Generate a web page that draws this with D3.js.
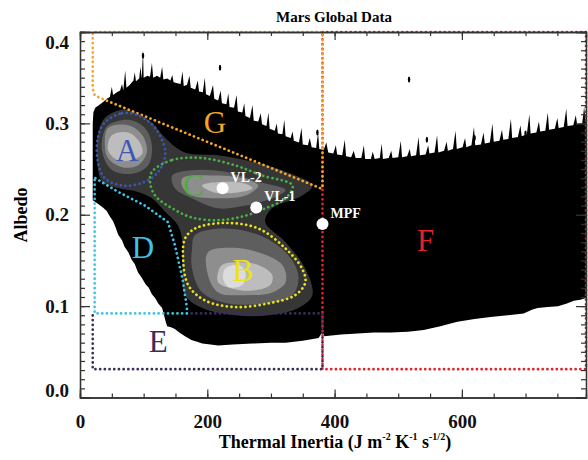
<!DOCTYPE html>
<html><head><meta charset="utf-8">
<script src="https://cdn.jsdelivr.net/npm/d3@7"></script>
<style>
body{margin:0;background:#fff;}
text{font-family:"Liberation Serif","Times New Roman",serif;}
</style></head>
<body><svg id="c" width="588" height="460"></svg>
<script>
// ---------- data ----------
const xMajorTicks = [0, 200, 400, 600];
const yMajorTicks = [0, 0.1, 0.2, 0.3, 0.4];
const xMinorTicks = d3.range(0, 800, 50);
const yMinorTicks = d3.range(0, 0.401, 0.01);

// upper envelope of the data cloud [thermal inertia, albedo]
const envelopeUpper = [[20,0.300],[21,0.312],[24,0.317],[30,0.320],[36,0.323],[42,0.327],[47,0.329],[50,0.340],[52,0.331],[58,0.334],[63,0.336],[66,0.343],[68,0.336],[71,0.358],[73,0.339],[78,0.342],[84,0.347],[86,0.356],[88,0.346],[93,0.349],[95,0.362],[97,0.349],[99,0.381],[100,0.350],[106,0.352],[110,0.351],[113,0.366],[115,0.350],[121,0.352],[126,0.350],[129,0.362],[131,0.348],[137,0.349],[142,0.347],[145,0.353],[147,0.345],[153,0.344],[158,0.343],[161,0.357],[163,0.341],[168,0.342],[172,0.352],[174,0.339],[181,0.337],[185,0.347],[187,0.335],[193,0.334],[196,0.350],[198,0.332],[204,0.330],[209,0.342],[211,0.327],[217,0.325],[221,0.336],[223,0.322],[230,0.321],[233,0.333],[235,0.318],[242,0.317],[246,0.331],[248,0.313],[255,0.312],[258,0.322],[260,0.308],[267,0.306],[271,0.320],[273,0.303],[280,0.302],[284,0.311],[286,0.299],[293,0.297],[296,0.312],[298,0.294],[306,0.292],[309,0.300],[311,0.289],[318,0.288],[321,0.304],[323,0.286],[331,0.284],[334,0.291],[336,0.281],[344,0.279],[348,0.295],[350,0.277],[358,0.276],[361,0.284],[364,0.274],[371,0.273],[374,0.290],[376,0.272],[383,0.271],[387,0.279],[390,0.268],[398,0.267],[402,0.276],[404,0.266],[412,0.265],[416,0.282],[418,0.264],[426,0.263],[430,0.270],[433,0.262],[442,0.262],[446,0.276],[448,0.261],[457,0.261],[460,0.269],[463,0.261],[471,0.262],[474,0.278],[476,0.261],[485,0.262],[489,0.270],[491,0.262],[500,0.263],[504,0.281],[506,0.263],[514,0.264],[518,0.272],[520,0.264],[528,0.265],[532,0.285],[534,0.265],[543,0.266],[547,0.276],[549,0.267],[557,0.268],[561,0.287],[563,0.268],[572,0.270],[576,0.280],[578,0.270],[586,0.272],[590,0.292],[592,0.272],[601,0.274],[605,0.284],[607,0.274],[615,0.276],[619,0.296],[621,0.276],[630,0.277],[634,0.290],[636,0.278],[644,0.279],[648,0.300],[650,0.280],[659,0.281],[663,0.293],[665,0.282],[673,0.283],[677,0.305],[679,0.284],[688,0.285],[692,0.298],[694,0.286],[702,0.288],[706,0.310],[708,0.289],[717,0.290],[721,0.302],[723,0.291],[731,0.292],[735,0.312],[737,0.293],[746,0.294],[750,0.306],[752,0.295],[760,0.296],[764,0.316],[766,0.297],[775,0.298],[779,0.309],[781,0.299],[789,0.300],[792,0.318],[795,0.301]];
// lower envelope, left to right
const envelopeLower = [[20,0.216],[28,0.212],[36,0.208],[42,0.204],[47,0.198],[52,0.193],[56,0.186],[60,0.178],[66,0.172],[70,0.165],[76,0.159],[81,0.151],[86,0.146],[91,0.137],[97,0.131],[103,0.124],[108,0.120],[113,0.113],[118,0.109],[123,0.103],[129,0.098],[132,0.090],[135,0.082],[137,0.078],[143,0.077],[149,0.075],[156,0.071],[165,0.067],[175,0.063],[184,0.061],[192,0.059],[205,0.058],[217,0.057],[240,0.058],[271,0.059],[300,0.060],[323,0.060],[350,0.062],[375,0.065],[381,0.072],[384,0.067],[410,0.069],[436,0.070],[462,0.071],[488,0.071],[515,0.072],[540,0.074],[566,0.078],[593,0.083],[620,0.086],[645,0.088],[672,0.090],[697,0.092],[710,0.096],[719,0.098],[735,0.099],[751,0.100],[765,0.103],[776,0.106],[786,0.107],[795,0.109]];
// isolated outliers above the cloud
const outliers = [[99,0.374],[220,0.361],[373,0.290],[517,0.348],[545,0.282],[620,0.284],[700,0.289]];

// density contour levels (0 = lowest density)
const levelColors = ["#363636", "#5e5e5e", "#8e8e8e", "#bdbdbd", "#dcdcdc"];
const densityContours = [
  {level:0, pts:[[66,0.315],[90,0.311],[113,0.301],[134,0.284],[165,0.268],[217,0.265],[271,0.258],[323,0.247],[365,0.232],[349,0.221],[302,0.207],[291,0.192],[323,0.170],[354,0.141],[365,0.112],[343,0.098],[296,0.090],[244,0.090],[192,0.098],[165,0.112],[161,0.141],[161,0.170],[154,0.188],[134,0.203],[113,0.218],[91,0.225],[60,0.229],[35,0.236],[27,0.258],[28,0.287],[39,0.306]]},
  {level:1, pts:[[44,0.298],[76,0.304],[102,0.295],[113,0.276],[107,0.254],[82,0.245],[50,0.249],[35,0.268],[36,0.287]]},
  {level:1, pts:[[145,0.243],[181,0.249],[228,0.247],[280,0.236],[323,0.227],[302,0.218],[260,0.210],[217,0.207],[176,0.218],[149,0.229]]},
  {level:1, pts:[[181,0.178],[228,0.185],[280,0.178],[323,0.159],[343,0.134],[334,0.112],[291,0.103],[233,0.103],[192,0.115],[176,0.141],[176,0.163]]},
  {level:2, pts:[[44,0.295],[76,0.298],[98,0.287],[105,0.268],[91,0.254],[66,0.252],[44,0.262],[39,0.279]]},
  {level:2, pts:[[161,0.240],[208,0.243],[255,0.240],[280,0.232],[260,0.221],[217,0.218],[176,0.221],[161,0.230]]},
  {level:2, pts:[[201,0.159],[239,0.164],[280,0.159],[318,0.145],[323,0.126],[302,0.115],[260,0.112],[217,0.115],[201,0.134]]},
  {level:3, pts:[[50,0.287],[76,0.290],[94,0.279],[98,0.267],[82,0.260],[58,0.260],[44,0.271]]},
  {level:3, pts:[[192,0.232],[228,0.236],[260,0.234],[271,0.229],[244,0.224],[208,0.225]]},
  {level:3, pts:[[223,0.145],[249,0.148],[280,0.145],[302,0.134],[299,0.123],[271,0.117],[239,0.119],[217,0.126],[217,0.137]]},
  {level:4, pts:[[228,0.141],[249,0.145],[260,0.137],[255,0.123],[233,0.121],[225,0.130]]}
];

// unit boundaries (dotted)
const regionNames = ["F","G","E","D","A","C","B"];
const regionColors = {G:"#f5a52a", F:"#e3222b", E:"#3b2d58", D:"#3cc3e6", A:"#3a57b5", C:"#4aae45", B:"#ece21c"};
const regionPaths = {
  F:{closed:true, pts:[[381,0.4],[795,0.4],[795,0.031],[381,0.031]]},
  G:{closed:false, pts:[[381,0.229],[378,0.229],[31,0.328],[23,0.331],[20,0.338],[20,0.4],[381,0.4],[381,0.229]]},
  E:{closed:false, pts:[[168,0.092],[381,0.092],[381,0.031],[20,0.031],[20,0.092]]},
  D:{closed:false, pts:[[24,0.240],[60,0.225],[102,0.210],[138,0.192],[149,0.167],[161,0.130],[168,0.098],[168,0.092],[23,0.092],[23,0.240]]},
  A:{closed:true, curve:true, pts:[[39,0.301],[66,0.311],[91,0.309],[118,0.295],[134,0.268],[123,0.247],[98,0.235],[66,0.232],[39,0.240],[28,0.258],[28,0.284]]},
  C:{closed:true, curve:true, pts:[[113,0.247],[145,0.260],[192,0.262],[244,0.254],[286,0.243],[334,0.232],[323,0.218],[291,0.207],[260,0.199],[217,0.194],[176,0.197],[145,0.207],[118,0.221],[110,0.236]]},
  B:{closed:true, curve:true, pts:[[165,0.174],[181,0.185],[228,0.191],[280,0.185],[323,0.163],[349,0.141],[354,0.126],[338,0.112],[296,0.103],[244,0.099],[197,0.106],[170,0.123],[162,0.152]]}
};
const regionLabelPos = {A:[74,0.271], G:[212,0.301], C:[178,0.232], B:[256,0.139], D:[99,0.164], E:[123,0.062], F:[543,0.172]};

// landing sites
const sites = ["VL-2", "VL-1", "MPF"];
const siteTI = [224, 277, 381];
const siteAlbedo = [0.229, 0.208, 0.190];

// ---------- chart ----------
const svg = d3.select("#c");
const M = {l:80, r:586, t:32, b:397.5};
const x = d3.scaleLinear().domain([0, 795]).range([M.l, M.r]);
const y = d3.scaleLinear().domain([0, 0.4]).range([M.b, M.t]);

svg.append("defs").append("clipPath").attr("id","clip")
  .append("rect").attr("x",M.l).attr("y",M.t).attr("width",M.r-M.l).attr("height",M.b-M.t);
const g = svg.append("g").attr("clip-path","url(#clip)");

const line = d3.line().x(d=>x(d[0])).y(d=>y(d[1]));
// cloud
const cloud = envelopeUpper.concat(envelopeLower.slice().reverse());
g.append("path").attr("d", line(cloud) + "Z").attr("fill","#000");
g.selectAll(".out").data(outliers).join("ellipse")
  .attr("cx",d=>x(d[0])).attr("cy",d=>y(d[1])).attr("rx",1.2).attr("ry",3).attr("fill","#000");

// density contours
const smooth = d3.line().x(d=>x(d[0])).y(d=>y(d[1])).curve(d3.curveCatmullRomClosed.alpha(0.5));
g.selectAll(".ct").data(densityContours).join("path")
  .attr("d", d=>smooth(d.pts)).attr("fill", d=>levelColors[d.level]);

// region boundaries
regionNames.forEach(n=>{
  const r = regionPaths[n];
  let gen;
  if (r.curve) gen = d3.line().x(d=>x(d[0])).y(d=>y(d[1])).curve(d3.curveCatmullRomClosed.alpha(0.5));
  else gen = line;
  let d = gen(r.pts); if (r.closed && !r.curve) d += "Z";
  svg.append("path").attr("d", d).attr("fill","none")
    .attr("stroke", regionColors[n]).attr("stroke-width", 2.7)
    .attr("stroke-linecap","round").attr("stroke-dasharray", "0.1,4.6")
    .attr("stroke-dashoffset", n==="G" ? 2.3 : 0);
});

// axes
function axis(gen, tf, transform, vals, size, labels){
  const a = svg.append("g").attr("transform", transform)
    .call(gen.tickValues(vals).tickSize(size).tickPadding(10).tickFormat(labels ? tf : ""));
  a.select(".domain").attr("stroke","#333").attr("stroke-width",1.3);
  a.selectAll(".tick line").attr("stroke","#333").attr("stroke-width",1.2);
  return a;
}
const fx = d3.format("d"), fy = d3.format(".1f");
axis(d3.axisBottom(x), fx, `translate(0,${M.b})`, xMinorTicks, -4, false);
const ax = axis(d3.axisBottom(x), fx, `translate(0,${M.b})`, xMajorTicks, -8, true);
ax.selectAll("text").attr("dy","1.1em");
axis(d3.axisTop(x), fx, `translate(0,${M.t})`, xMinorTicks, -4, false);
axis(d3.axisTop(x), fx, `translate(0,${M.t})`, xMajorTicks, -8, false);
axis(d3.axisLeft(y), fy, `translate(${M.l},0)`, yMinorTicks, -5, false);
const ay = axis(d3.axisLeft(y), fy, `translate(${M.l},0)`, yMajorTicks, -10, true);
ay.selectAll("text").attr("dy", d => d===0.4 ? "0.85em" : d===0 ? "-0.05em" : "0.32em").attr("x",-11);
axis(d3.axisRight(y), fy, `translate(${M.r},0)`, yMinorTicks, -5, false);
axis(d3.axisRight(y), fy, `translate(${M.r},0)`, yMajorTicks, -10, false);
svg.selectAll(".tick text").attr("font-family","Liberation Serif").attr("font-weight","bold")
  .attr("font-size",19).attr("fill","#111");

// region letters
regionNames.forEach(n=>{
  const p = regionLabelPos[n];
  svg.append("text").attr("x",x(p[0])).attr("y",y(p[1])).attr("dy","0.35em")
    .attr("text-anchor","middle").attr("font-size",31).attr("fill",regionColors[n]).text(n);
});

// sites
sites.forEach((s,i)=>{
  svg.append("circle").attr("cx",x(siteTI[i])).attr("cy",y(siteAlbedo[i])).attr("r",6).attr("fill","#fff");
  svg.append("text").attr("x",x(siteTI[i])+8).attr("y",y(siteAlbedo[i])-6)
    .attr("font-size",14).attr("font-weight","bold").attr("fill","#fff").text(s);
});

// titles
svg.append("text").attr("x",334).attr("y",22).attr("text-anchor","middle")
  .attr("font-size",15).attr("font-weight","bold").text("Mars Global Data");
const xl = svg.append("text").attr("x",335).attr("y",448).attr("text-anchor","middle")
  .attr("font-size",18).attr("font-weight","bold");
xl.append("tspan").text("Thermal Inertia (J m");
xl.append("tspan").attr("font-size",10).attr("dy",-8).text("-2");
xl.append("tspan").attr("dy",8).text(" K");
xl.append("tspan").attr("font-size",10).attr("dy",-8).text("-1");
xl.append("tspan").attr("dy",8).text(" s");
xl.append("tspan").attr("font-size",10).attr("dy",-8).text("-1/2");
xl.append("tspan").attr("dy",8).text(")");
svg.append("text").attr("transform","translate(27,215) rotate(-90)").attr("text-anchor","middle")
  .attr("font-size",18).attr("font-weight","bold").text("Albedo");
</script></body></html>
